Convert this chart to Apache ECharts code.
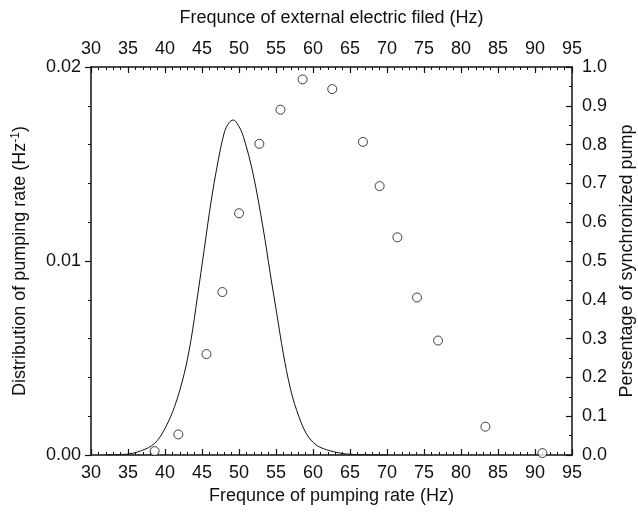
<!DOCTYPE html>
<html>
<head>
<meta charset="utf-8">
<style>
  html, body { margin: 0; padding: 0; background: #fff; }
  #chart { width: 638px; height: 513px; }
</style>
<script src="https://cdn.jsdelivr.net/npm/echarts@6/dist/echarts.min.js"></script>
</head>
<body>
<div id="chart"></div>
<script>
// distribution curve (left axis)
const curveX = [32, 34.5, 36.8, 38.6, 39.9, 41.3, 42.6, 43.5, 44.4, 45.3, 46.2, 47.1, 48.0, 48.6, 49.2, 49.9, 50.6, 51.9, 53.3, 54.2, 55.1, 56.0, 56.9, 57.8, 59.1, 60.5, 62.3, 64.5, 67, 70];
const curveY = [0.00001, 0.00003, 0.00022, 0.0006, 0.0013, 0.0025, 0.0042, 0.0059, 0.0082, 0.0106, 0.013, 0.015, 0.0166, 0.0171, 0.01727, 0.017, 0.0164, 0.0145, 0.0116, 0.0094, 0.0073, 0.0052, 0.0035, 0.0023, 0.0011, 0.0005, 0.00022, 0.00005, 0.00001, 0];

// synchronized pump share (right axis)
const pumpX = [38.6, 41.8, 45.6, 47.75, 50.0, 52.75, 55.6, 58.6, 62.6, 66.75, 69.0, 71.4, 74.05, 76.9, 83.3, 91.0];
const pumpY = [0.01, 0.053, 0.26, 0.42, 0.623, 0.802, 0.89, 0.968, 0.943, 0.807, 0.693, 0.561, 0.406, 0.295, 0.073, 0.005];

const FONT = '"Liberation Sans", Arial, Helvetica, sans-serif';
const INK = '#111';

const freqAxis = (position, name, nameGap) => ({
  type: 'value',
  position,
  min: 30,
  max: 95,
  interval: 5,
  name,
  nameLocation: 'middle',
  nameGap,
  nameTextStyle: { fontFamily: FONT, fontSize: 18, color: INK },
  axisLine: { show: true, onZero: false, lineStyle: { color: INK, width: 1.5 } },
  axisTick: { show: true, inside: true, length: 6, lineStyle: { color: INK, width: 1.2 } },
  minorTick: { show: true, splitNumber: 5, length: 3, lineStyle: { color: INK, width: 1 } },
  splitLine: { show: false },
  axisLabel: { fontFamily: FONT, fontSize: 18, color: INK, margin: 9 },
});

const chart = window.echarts.init(document.getElementById('chart'), null, { renderer: 'canvas' });

const option = {
  backgroundColor: '#fff',
  animation: false,
  grid: { left: 91, right: 66, top: 67, bottom: 58, containLabel: false, outerBoundsMode: 'none' },
  xAxis: [
    freqAxis('bottom', 'Frequnce of pumping rate (Hz)', 31),
    freqAxis('top', 'Frequnce of external electric filed (Hz)', 40),
  ],
  yAxis: [
    {
      type: 'value',
      position: 'left',
      min: 0,
      max: 0.02,
      interval: 0.01,
      name: 'Distribution of pumping rate (Hz{sup|-1})',
      nameLocation: 'middle',
      nameGap: 60,
      nameRotate: 90,
      nameTextStyle: {
        fontFamily: FONT,
        fontSize: 18,
        color: INK,
        rich: { sup: { fontFamily: FONT, fontSize: 12, color: INK, padding: [0, 0, 9, 0] } },
      },
      axisLine: { show: true, onZero: false, lineStyle: { color: INK, width: 1.5 } },
      axisTick: { show: true, inside: false, length: 6, lineStyle: { color: INK, width: 1.2 } },
      minorTick: { show: true, splitNumber: 5, length: 3, lineStyle: { color: INK, width: 1 } },
      splitLine: { show: false },
      axisLabel: { fontFamily: FONT, fontSize: 18, color: INK, margin: 10, formatter: (v) => v.toFixed(2) },
    },
    {
      type: 'value',
      position: 'right',
      min: 0,
      max: 1,
      interval: 0.1,
      name: 'Persentage of synchronized pump',
      nameLocation: 'middle',
      nameGap: 44,
      nameRotate: 90,
      nameTextStyle: { fontFamily: FONT, fontSize: 18, color: INK },
      axisLine: { show: true, onZero: false, lineStyle: { color: INK, width: 1.5 } },
      axisTick: { show: true, inside: true, length: 6, lineStyle: { color: INK, width: 1.2 } },
      minorTick: { show: true, splitNumber: 2, length: 3, lineStyle: { color: INK, width: 1 } },
      splitLine: { show: false },
      axisLabel: { fontFamily: FONT, fontSize: 18, color: INK, margin: 10, formatter: (v) => v.toFixed(1) },
    },
  ],
  series: [
    {
      name: 'Distribution',
      type: 'line',
      xAxisIndex: 0,
      yAxisIndex: 0,
      data: curveX.map((x, i) => [x, curveY[i]]),
      showSymbol: false,
      smooth: 0.35,
      lineStyle: { color: INK, width: 1 },
    },
    {
      name: 'Synchronized',
      type: 'scatter',
      xAxisIndex: 0,
      yAxisIndex: 1,
      data: pumpX.map((x, i) => [x, pumpY[i]]),
      symbol: 'circle',
      symbolSize: 9,
      clip: false,
      itemStyle: { color: '#fff', borderColor: INK, borderWidth: 1 },
    },
  ],
};

chart.setOption(option);
</script>
</body>
</html>
